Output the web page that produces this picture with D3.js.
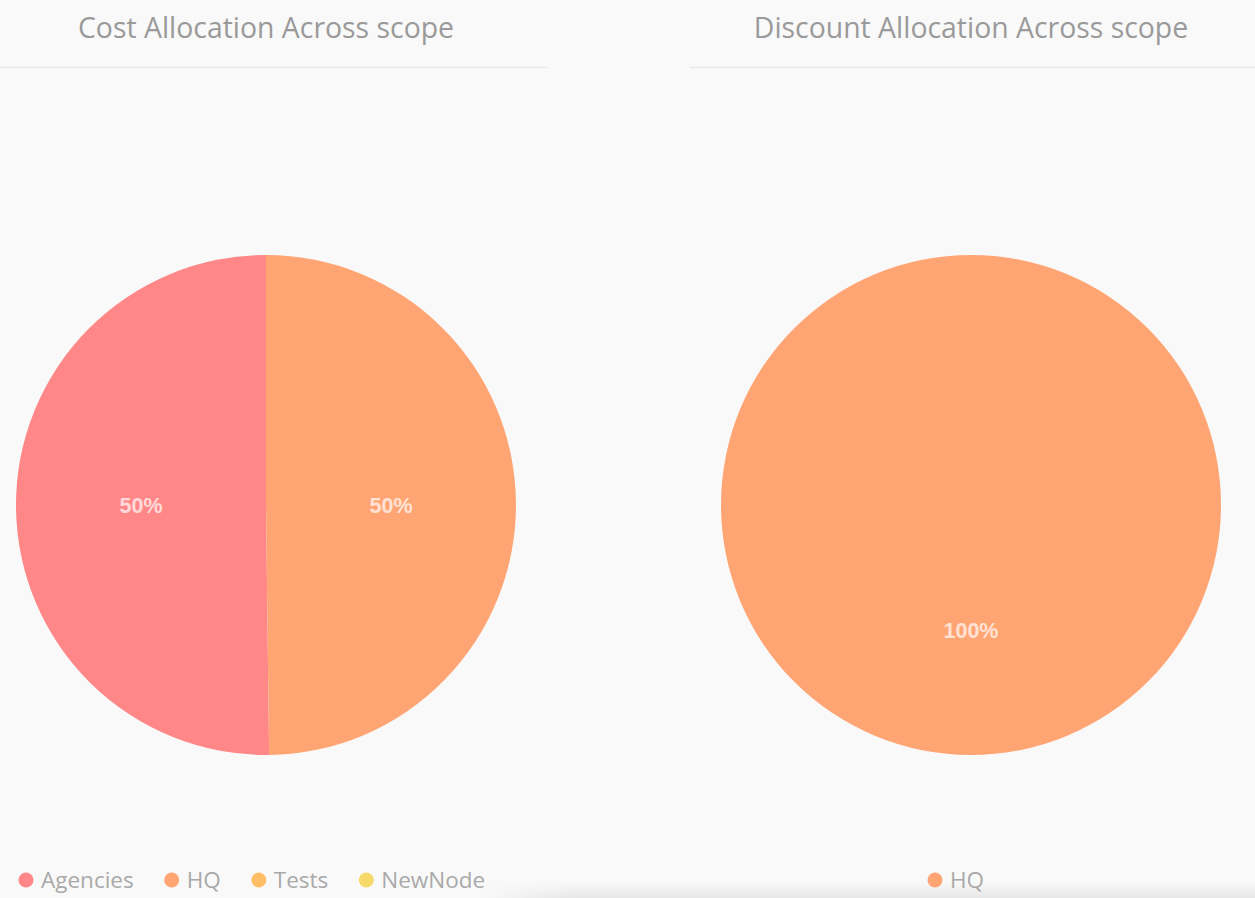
<!DOCTYPE html>
<html>
<head>
<meta charset="utf-8">
<script src="https://cdn.jsdelivr.net/npm/d3@7"></script>
<style>
  html, body { margin: 0; padding: 0; background: #f9f9f9; }
  svg { display: block; }
</style>
</head>
<body>
<div id="chart"></div>
<script>
// chart data
const costCategories = ["Agencies", "HQ", "Tests", "NewNode"];
const costValues = [50.2, 49.8, 0, 0];
const discountCategories = ["HQ"];
const discountValues = [100];
const titles = ["Cost Allocation Across scope", "Discount Allocation Across scope"];

const colorOf = d3.scaleOrdinal()
  .domain(["Agencies", "HQ", "Tests", "NewNode"])
  .range(["#ff8787", "#ffa574", "#ffbe68", "#f6da6a"]);

const width = 1255, height = 898;

const svg = d3.select("#chart").append("svg")
  .attr("width", width)
  .attr("height", height);

// soft shadow at the bottom edge, fading in from the left
const defs = svg.append("defs");
const grad = defs.append("linearGradient")
  .attr("id", "shade").attr("x1", 0).attr("y1", 0).attr("x2", 0).attr("y2", 1);
grad.append("stop").attr("offset", "0%").attr("stop-color", "#000").attr("stop-opacity", 0);
grad.append("stop").attr("offset", "100%").attr("stop-color", "#000").attr("stop-opacity", 0.07);
const fade = defs.append("linearGradient")
  .attr("id", "fade").attr("x1", 0).attr("y1", 0).attr("x2", 1).attr("y2", 0);
fade.append("stop").attr("offset", "0%").attr("stop-color", "#fff").attr("stop-opacity", 0);
fade.append("stop").attr("offset", "12%").attr("stop-color", "#fff").attr("stop-opacity", 1);
fade.append("stop").attr("offset", "100%").attr("stop-color", "#fff").attr("stop-opacity", 1);
defs.append("mask").attr("id", "fadeMask")
  .attr("maskUnits", "userSpaceOnUse")
  .append("rect")
  .attr("x", 480).attr("y", 880).attr("width", 775).attr("height", 18)
  .attr("fill", "url(#fade)");
svg.append("rect")
  .attr("x", 480).attr("y", 882).attr("width", 775).attr("height", 16)
  .attr("fill", "url(#shade)")
  .attr("mask", "url(#fadeMask)");

// draw one panel: title, divider, pie, legend
const drawPanel = (cx, lineX0, lineX1, title, cats, vals, legendX) => {
  const g = svg.append("g");

  g.append("text")
    .attr("x", cx)
    .attr("y", 38)
    .attr("text-anchor", "middle")
    .style("font-family", "'Open Sans', sans-serif")
    .style("font-size", "28.4px")
    .attr("fill", "#9a9a9a")
    .text(title);

  g.append("line")
    .attr("x1", lineX0).attr("x2", lineX1)
    .attr("y1", 67.5).attr("y2", 67.5)
    .attr("stroke", "#e9e9e9")
    .attr("stroke-width", 1.5);

  const radius = 250;
  const cy = 505;
  const rows = cats.map((c, i) => ({ name: c, value: vals[i] }));
  const total = d3.sum(vals);

  // counter-clockwise from the top, in data order
  const pie = d3.pie()
    .sort(null)
    .value(d => d.value)
    .startAngle(0)
    .endAngle(-2 * Math.PI);

  const arc = d3.arc().innerRadius(0).outerRadius(radius);
  const labelArc = d3.arc().innerRadius(radius / 2).outerRadius(radius / 2);

  const pieG = g.append("g").attr("transform", `translate(${cx},${cy})`);
  const slices = pie(rows).filter(d => d.data.value > 0);

  pieG.selectAll("path")
    .data(slices)
    .join("path")
    .attr("d", arc)
    .attr("fill", d => colorOf(d.data.name));

  pieG.selectAll("text")
    .data(slices)
    .join("text")
    .attr("transform", d => {
      // a full circle has its centroid at the centre; put the label at half radius below
      if (slices.length === 1) return `translate(0,${radius / 2})`;
      const [lx, ly] = labelArc.centroid(d);
      return `translate(${lx},0)`;
    })
    .attr("text-anchor", "middle")
    .attr("dy", "0.36em")
    .style("font-family", "'Liberation Sans', Arial, sans-serif")
    .style("font-weight", "bold")
    .style("font-size", "21.5px")
    .attr("fill", "#fff")
    .attr("fill-opacity", 0.7)
    .text(d => Math.round(d.data.value / total * 100) + "%");

  // legend
  const legend = g.append("g");
  const items = legend.selectAll("g")
    .data(cats)
    .join("g");
  items.append("circle")
    .attr("r", 7.5)
    .attr("cx", 0)
    .attr("cy", 0)
    .attr("fill", d => colorOf(d));
  items.append("text")
    .attr("x", 15)
    .attr("dy", "0.35em")
    .style("font-family", "'Open Sans', sans-serif")
    .style("font-size", "22.5px")
    .attr("fill", "#a9a9a9")
    .text(d => d);

  let x = 0;
  items.each(function() {
    const w = d3.select(this).select("text").node().getComputedTextLength();
    d3.select(this).attr("transform", `translate(${x},0)`);
    x += 15 + w + 38;
  });
  legend.attr("transform", `translate(${legendX},880)`);
};

drawPanel(266, 0, 548, titles[0], costCategories, costValues, 26);
drawPanel(971, 690, 1255, titles[1], discountCategories, discountValues, 935);
</script>
</body>
</html>
